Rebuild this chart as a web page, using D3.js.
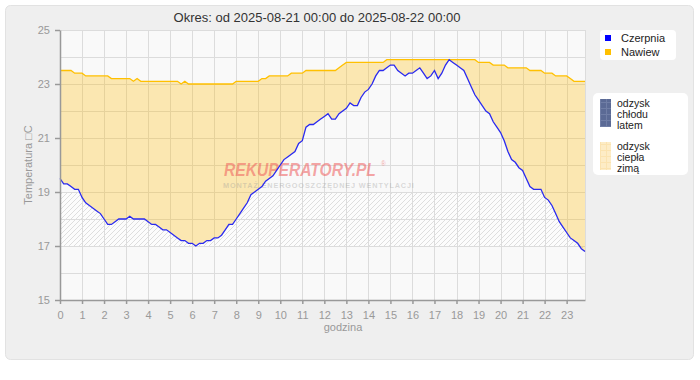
<!DOCTYPE html>
<html><head><meta charset="utf-8">
<script src="https://cdn.jsdelivr.net/npm/d3@7"></script>
<style>body{margin:0;background:#fff;} svg{display:block;font-family:"Liberation Sans",Arial,sans-serif;}</style>
</head><body><svg id="c" width="700" height="380"></svg>
<script>
const title = "Okres: od 2025-08-21 00:00 do 2025-08-22 00:00";
const yLabel = "Temperatura \u25A1C";
const xLabel = "godzina";
const hourTicks = d3.range(0, 24);
const tempTicks = [15, 17, 19, 21, 23, 25];
const seriesNames = ["Czerpnia", "Nawiew"];
const seriesColors = ["#0000ff", "#ffc000"];
const stepMinutes = 10;
// Czerpnia (outdoor intake), every 10 minutes from 00:00 to 23:50
const czerpnia = [
 19.5,19.3,19.3,19.2,19.1,19.1,18.8,18.6,18.5,18.4,18.3,18.2,
 18.0,17.8,17.8,17.9,18.0,18.0,18.0,18.1,18.0,18.0,18.0,18.0,
 17.9,17.8,17.8,17.7,17.6,17.6,17.5,17.4,17.3,17.2,17.2,17.1,
 17.1,17.0,17.1,17.1,17.2,17.2,17.3,17.3,17.4,17.6,17.8,17.8,
 18.0,18.2,18.4,18.6,18.9,19.0,19.1,19.2,19.4,19.5,19.6,19.8,
 20.0,20.2,20.3,20.4,20.5,20.8,20.9,21.4,21.5,21.5,21.6,21.7,
 21.8,21.9,21.7,21.7,21.9,22.0,22.1,22.3,22.2,22.2,22.5,22.7,
 22.8,23.0,23.3,23.5,23.5,23.6,23.7,23.7,23.5,23.4,23.3,23.4,
 23.4,23.5,23.6,23.4,23.2,23.3,23.5,23.2,23.4,23.7,23.9,23.8,
 23.7,23.6,23.5,23.2,22.9,22.6,22.4,22.2,22.0,21.9,21.6,21.4,
 21.2,20.9,20.5,20.2,20.1,19.9,19.8,19.5,19.2,19.1,19.1,19.1,
 18.8,18.7,18.5,18.2,17.9,17.7,17.5,17.3,17.2,17.1,16.9,16.8];
// Nawiew (supply air)
const nawiew = [
 23.5,23.5,23.5,23.5,23.4,23.4,23.4,23.3,23.3,23.3,23.3,23.3,
 23.3,23.3,23.2,23.2,23.2,23.2,23.2,23.2,23.1,23.2,23.1,23.1,
 23.1,23.1,23.1,23.1,23.1,23.1,23.1,23.1,23.1,23.0,23.1,23.0,
 23.0,23.0,23.0,23.0,23.0,23.0,23.0,23.0,23.0,23.0,23.0,23.0,
 23.1,23.1,23.1,23.1,23.1,23.1,23.1,23.2,23.2,23.3,23.3,23.3,
 23.3,23.3,23.3,23.4,23.4,23.4,23.4,23.5,23.5,23.5,23.5,23.5,
 23.5,23.5,23.5,23.5,23.6,23.7,23.8,23.8,23.8,23.8,23.8,23.8,
 23.8,23.8,23.8,23.8,23.8,23.9,23.9,23.9,23.9,23.9,23.9,23.9,
 23.9,23.9,23.9,23.9,23.9,23.9,23.9,23.9,23.9,23.9,23.9,23.9,
 23.9,23.9,23.9,23.9,23.9,23.9,23.8,23.8,23.8,23.8,23.7,23.7,
 23.7,23.7,23.6,23.6,23.6,23.6,23.6,23.6,23.5,23.5,23.5,23.5,
 23.4,23.4,23.4,23.3,23.3,23.3,23.3,23.2,23.1,23.1,23.1,23.1];
const hatchFloor = 17;
const hatchCeil = 19;
const legend2 = [["odzysk","chłodu","latem"],["odzysk","ciepła","zimą"]];
const watermark = "REKUPERATORY.PL";
const watermarkSub = "MONTAŻ ENERGOOSZCZĘDNEJ WENTYLACJI";

const svg = d3.select("#c");
const m = {l:60, r:585, t:30, b:300};
const times = czerpnia.map((_, i) => i * stepMinutes / 60);
const x = d3.scaleLinear().domain([0, times[times.length-1]]).range([m.l, m.r]);
const y = d3.scaleLinear().domain([15, 25]).range([m.b, m.t]);

const defs = svg.append("defs");
const hp = defs.append("pattern").attr("id","hatch").attr("patternUnits","userSpaceOnUse")
  .attr("width",5).attr("height",5);
hp.append("rect").attr("width",5).attr("height",5).attr("fill","#fcfcfc");
hp.append("path").attr("d","M0,5 L5,0 M-1,1 L1,-1 M4,6 L6,4").attr("stroke","#dedede").attr("stroke-width",1);
const gb = defs.append("pattern").attr("id","gblue").attr("patternUnits","userSpaceOnUse").attr("width",6).attr("height",6);
gb.append("rect").attr("width",6).attr("height",6).attr("fill","#5b6a95");
gb.append("path").attr("d","M0,0.5 H6 M0.5,0 V6").attr("stroke","#6f7da5").attr("stroke-width",1);
const gy = defs.append("pattern").attr("id","gyel").attr("patternUnits","userSpaceOnUse").attr("width",6).attr("height",6);
gy.append("rect").attr("width",6).attr("height",6).attr("fill","#fdecc6");
gy.append("path").attr("d","M0,0.5 H6 M0.5,0 V6").attr("stroke","#fbe3b0").attr("stroke-width",1);

// panel
svg.append("rect").attr("x",5.5).attr("y",5.5).attr("width",688).attr("height",354).attr("rx",5)
  .attr("fill","#efefef").attr("stroke","#e2e2e2");

// plot bg
svg.append("rect").attr("x",m.l).attr("y",m.t).attr("width",m.r-m.l).attr("height",m.b-m.t).attr("fill","#f9f9f9");

// hatch
const hatchArea = d3.area().x((d,i)=>x(times[i])).y0(y(hatchFloor)).y1(d=>y(Math.min(d, hatchCeil)));
svg.append("path").datum(czerpnia).attr("d",hatchArea).attr("fill","url(#hatch)");

// grid
const grid = svg.append("g").attr("stroke","#dcdcdc").attr("stroke-width",1);
hourTicks.forEach(h => { if (h>0) grid.append("line").attr("x1",Math.round(x(h))+0.5).attr("x2",Math.round(x(h))+0.5).attr("y1",m.t).attr("y2",m.b); });
d3.range(16, 26).forEach(v => grid.append("line").attr("x1",m.l).attr("x2",m.r).attr("y1",Math.round(y(v))+0.5).attr("y2",Math.round(y(v))+0.5));
grid.append("line").attr("x1",m.r+0.5).attr("x2",m.r+0.5).attr("y1",m.t).attr("y2",m.b);

// fill between
const fillArea = d3.area().x((d,i)=>x(times[i])).y0((d,i)=>y(czerpnia[i])).y1(d=>y(d));
svg.append("path").datum(nawiew).attr("d",fillArea).attr("fill","rgba(255,186,0,0.29)");

// watermark
svg.append("text").attr("transform","translate(224,175.5) scale(1,1.2)").attr("font-size",15.6).attr("font-weight","bold").attr("font-style","italic")
  .attr("fill","rgba(238,90,90,0.55)").text(watermark);
svg.append("text").attr("x",381).attr("y",166).attr("font-size",6.5).attr("fill","rgba(238,90,90,0.55)").text("®");
svg.append("text").attr("x",223).attr("y",188).attr("font-size",7.3).attr("font-weight","bold").attr("letter-spacing",0.85)
  .attr("fill","rgba(150,150,150,0.35)").text(watermarkSub);

// lines
const line = d3.line().x((d,i)=>x(times[i])).y(d=>y(d));
svg.append("path").datum(nawiew).attr("d",line).attr("fill","none").attr("stroke",seriesColors[1]).attr("stroke-width",1.3);
svg.append("path").datum(czerpnia).attr("d",line).attr("fill","none").attr("stroke","#2a2af0").attr("stroke-width",1.3);

// axes
const xa = svg.append("g").attr("transform",`translate(0,${m.b})`)
  .call(d3.axisBottom(x).tickValues(hourTicks).tickSize(4).tickSizeOuter(0).tickFormat(d3.format("d")));
const ya = svg.append("g").attr("transform",`translate(${m.l},0)`)
  .call(d3.axisLeft(y).tickValues(tempTicks).tickSize(5).tickSizeOuter(0).tickPadding(5));
[xa, ya].forEach(a => {
  a.select(".domain").attr("stroke","#999").attr("stroke-width",1.5);
  a.selectAll(".tick line").attr("stroke","#999").attr("stroke-width",1.5);
  a.selectAll(".tick text").attr("fill","#999").attr("font-size",11).attr("font-family","Liberation Sans, Arial, sans-serif");
});
xa.selectAll(".tick text").attr("dy","1.05em");

// titles
svg.append("text").attr("x",317).attr("y",22).attr("text-anchor","middle").attr("font-size",13).attr("fill","#333").text(title);
svg.append("text").attr("x",343).attr("y",331).attr("text-anchor","middle").attr("font-size",11).attr("fill","#999").text(xLabel);
svg.append("text").attr("transform","translate(32,165) rotate(-90)").attr("text-anchor","middle").attr("font-size",11).attr("fill","#999").text(yLabel);

// legend 1
const lg = svg.append("g");
lg.append("rect").attr("x",600).attr("y",30).attr("width",76).attr("height",30).attr("rx",4).attr("fill","#fff");
seriesNames.forEach((n,i) => {
  lg.append("rect").attr("x",605).attr("y",35+i*14).attr("width",6).attr("height",6).attr("fill",seriesColors[i]);
  lg.append("text").attr("x",621).attr("y",42+i*14).attr("font-size",11).attr("fill","#222").text(n);
});
// legend 2
const l2 = svg.append("g");
l2.append("rect").attr("x",593).attr("y",93).attr("width",95).attr("height",82).attr("rx",5).attr("fill","#fff");
legend2.forEach((lines,i) => {
  l2.append("rect").attr("x",600).attr("y",99+i*43).attr("width",11).attr("height",28).attr("fill", i===0?"url(#gblue)":"url(#gyel)");
  lines.forEach((t,j) => l2.append("text").attr("x",617).attr("y",107+j*11+i*43).attr("font-size",10.5).attr("fill","#222").text(t));
});
</script></body></html>
